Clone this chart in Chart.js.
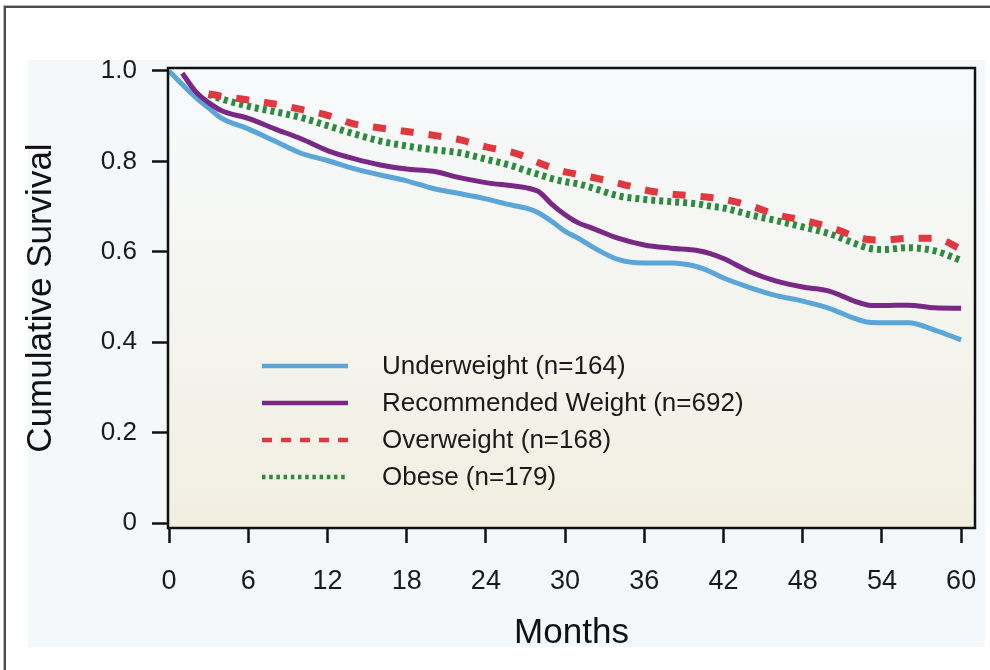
<!DOCTYPE html>
<html>
<head>
<meta charset="utf-8">
<title>Cumulative Survival by BMI group</title>
<script src="https://cdn.jsdelivr.net/npm/chart.js@4.4.1/dist/chart.umd.min.js"></script>
<style>
  html, body { margin: 0; padding: 0; background: #ffffff; }
  #wrap { position: relative; width: 990px; height: 670px; overflow: hidden; background: #ffffff; }
  #panel { position: absolute; left: 28px; top: 60px; width: 957px; height: 587px; background: #f4f8fb; }
  #frame { position: absolute; left: 4px; top: 6px; width: 1100px; height: 800px;
           border-left: 2px solid #4d4d4d; border-top: 2px solid #4d4d4d;
           box-shadow: -1px -1px 0 #b5b5b5; }
  #chart { position: absolute; left: 0; top: 0; }
</style>
</head>
<body>
<div id="wrap">
  <div id="frame"></div>
  <div id="panel"></div>
  <canvas id="chart" width="990" height="670"></canvas>
</div>
<script>
// Follow-up time grid (months)
const months = [0, 1, 2, 3, 4, 6, 8, 10, 12, 14, 16, 18, 20, 22, 24, 26, 27, 28, 29, 30, 31, 32, 34, 36, 38, 40, 41, 42, 44, 46, 48, 50, 52, 53, 54, 56, 58, 60];

// Cumulative survival per BMI group (null = curve not drawn yet)
const underweight = [1.0, 0.970, 0.942, 0.918, 0.895, 0.872, 0.845, 0.818, 0.802, 0.784, 0.770, 0.757, 0.740, 0.729, 0.717, 0.703, 0.697, 0.686, 0.667, 0.645, 0.630, 0.612, 0.583, 0.575, 0.575, 0.567, 0.556, 0.542, 0.521, 0.503, 0.491, 0.475, 0.452, 0.444, 0.443, 0.443, 0.427, 0.405];
const recommended = [null, 0.995, 0.955, 0.930, 0.912, 0.895, 0.872, 0.850, 0.824, 0.806, 0.792, 0.783, 0.778, 0.764, 0.753, 0.746, 0.742, 0.733, 0.705, 0.682, 0.664, 0.653, 0.630, 0.615, 0.608, 0.603, 0.596, 0.585, 0.556, 0.535, 0.522, 0.513, 0.490, 0.482, 0.481, 0.482, 0.476, 0.475];
const overweight  = [null, null, null, 0.950, 0.944, 0.936, 0.927, 0.915, 0.902, 0.883, 0.874, 0.866, 0.858, 0.848, 0.832, 0.820, 0.810, 0.797, 0.786, 0.777, 0.771, 0.765, 0.752, 0.737, 0.728, 0.723, 0.720, 0.716, 0.702, 0.682, 0.670, 0.655, 0.634, 0.627, 0.626, 0.630, 0.630, 0.606];
const obese       = [null, null, null, 0.948, 0.938, 0.922, 0.910, 0.897, 0.879, 0.861, 0.845, 0.834, 0.826, 0.819, 0.805, 0.790, 0.780, 0.771, 0.762, 0.755, 0.750, 0.742, 0.724, 0.716, 0.711, 0.706, 0.701, 0.697, 0.682, 0.669, 0.655, 0.640, 0.618, 0.608, 0.605, 0.609, 0.602, 0.581];

const seriesLabels = ['Underweight (n=164)', 'Recommended Weight (n=692)', 'Overweight (n=168)', 'Obese (n=179)'];

// Axis ticks
const xTickValues = [0, 6, 12, 18, 24, 30, 36, 42, 48, 54, 60];
const xTickLabels = ['0', '6', '12', '18', '24', '30', '36', '42', '48', '54', '60'];
const yTickValues = [0, 0.2, 0.4, 0.6, 0.8, 1.0];
const yTickLabels = ['0', '0.2', '0.4', '0.6', '0.8', '1.0'];

const FONT = '"Liberation Sans", Arial, Helvetica, sans-serif';

const styles = [
  { color: '#5aa6d9', width: 5, dash: [],       legendWidth: 4.5, legendDash: [] },
  { color: '#7a2886', width: 5, dash: [],       legendWidth: 4.5, legendDash: [] },
  { color: '#e0383f', width: 7, dash: [13, 15], legendWidth: 4.5, legendDash: [10, 9] },
  { color: '#2d8a3e', width: 7, dash: [4, 4],   legendWidth: 4.5, legendDash: [3.5, 3.7] }
];

const seriesValues = [underweight, recommended, overweight, obese];

function toPoints(values) {
  return months.map((m, i) => ({ x: m, y: values[i] }));
}

const datasets = seriesValues.map((vals, i) => ({
  label: seriesLabels[i],
  data: toPoints(vals),
  borderColor: styles[i].color,
  borderWidth: styles[i].width,
  borderDash: styles[i].dash,
  borderCapStyle: 'butt',
  pointRadius: 0,
  fill: false,
  spanGaps: false,
  cubicInterpolationMode: 'monotone',
  order: [4, 3, 1, 2][i]
}));

// Plot area background: pale blue at the top fading to beige
const plotBackground = {
  id: 'plotBackground',
  beforeDraw(chart) {
    const { ctx, chartArea: a } = chart;
    const g = ctx.createLinearGradient(0, a.top, 0, a.bottom);
    g.addColorStop(0, '#f7fafc');
    g.addColorStop(0.4, '#f5f6f3');
    g.addColorStop(1, '#f2efe1');
    ctx.save();
    ctx.fillStyle = g;
    ctx.fillRect(a.left, a.top, a.right - a.left, a.bottom - a.top);
    ctx.restore();
  }
};

// Black box around the plot area
const plotFrame = {
  id: 'plotFrame',
  afterDatasetsDraw(chart) {
    const { ctx, chartArea: a } = chart;
    ctx.save();
    ctx.strokeStyle = '#111111';
    ctx.lineWidth = 2.5;
    ctx.strokeRect(a.left, a.top, a.right - a.left, a.bottom - a.top);
    ctx.restore();
  }
};

// Legend drawn inside the plot, lower left
const insideLegend = {
  id: 'insideLegend',
  afterDraw(chart) {
    const { ctx, chartArea: a } = chart;
    const x0 = a.left + 94, len = 86, tx = a.left + 214;
    let y = a.top + 298;
    ctx.save();
    chart.data.datasets.forEach((ds, i) => {
      ctx.beginPath();
      ctx.strokeStyle = ds.borderColor;
      ctx.lineWidth = styles[i].legendWidth;
      ctx.setLineDash(styles[i].legendDash);
      ctx.lineCap = 'butt';
      ctx.moveTo(x0, y);
      ctx.lineTo(x0 + len, y);
      ctx.stroke();
      ctx.setLineDash([]);
      ctx.fillStyle = '#1a1a1a';
      ctx.font = '26px ' + FONT;
      ctx.textBaseline = 'middle';
      ctx.textAlign = 'left';
      ctx.fillText(ds.label, tx, y + 1);
      y += 37;
    });
    ctx.restore();
  }
};

new Chart(document.getElementById('chart'), {
  type: 'line',
  data: { datasets },
  options: {
    responsive: false,
    animation: false,
    devicePixelRatio: 1,
    layout: { padding: { top: 68, right: 15, left: 0, bottom: 0 } },
    plugins: { legend: { display: false }, tooltip: { enabled: false } },
    scales: {
      x: {
        type: 'linear',
        min: -0.08,
        max: 61.05,
        afterBuildTicks: s => { s.ticks = xTickValues.map(v => ({ value: v })); },
        afterFit: s => { s.height = 142; s.paddingLeft = 0; s.paddingRight = 0; },
        border: { display: false },
        grid: { drawOnChartArea: false, drawTicks: true, tickLength: 15, tickWidth: 2.5, tickColor: '#111111' },
        ticks: {
          padding: 22,
          autoSkip: false,
          maxRotation: 0,
          color: '#1a1a1a',
          font: { family: FONT, size: 27 },
          callback: v => xTickLabels[xTickValues.indexOf(v)]
        },
        title: {
          display: true,
          text: 'Months',
          color: '#111111',
          font: { family: FONT, size: 35 },
          padding: { top: 0, bottom: 16 }
        }
      },
      y: {
        type: 'linear',
        min: -0.011,
        max: 1.0066,
        afterBuildTicks: s => { s.ticks = yTickValues.map(v => ({ value: v })); },
        afterFit: s => { s.width = 168; s.paddingTop = 0; s.paddingBottom = 0; },
        border: { display: false },
        grid: { drawOnChartArea: false, drawTicks: true, tickLength: 16, tickWidth: 2.5, tickColor: '#111111' },
        ticks: {
          padding: 15,
          autoSkip: false,
          color: '#1a1a1a',
          font: { family: FONT, size: 26 },
          callback: v => yTickLabels[yTickValues.findIndex(t => Math.abs(t - v) < 1e-6)]
        },
        title: {
          display: true,
          text: 'Cumulative Survival',
          color: '#111111',
          font: { family: FONT, size: 35 },
          padding: { top: 20, bottom: 0 }
        }
      }
    }
  },
  plugins: [plotBackground, plotFrame, insideLegend]
});
</script>
</body>
</html>
